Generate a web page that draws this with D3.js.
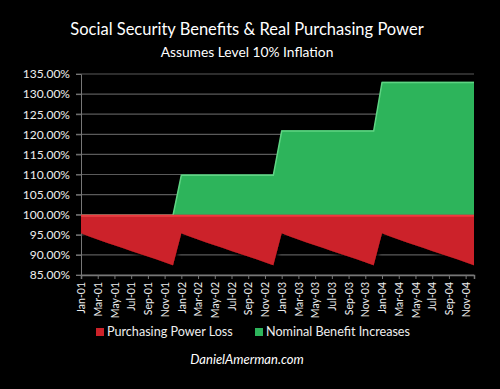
<!DOCTYPE html>
<html><head><meta charset="utf-8">
<script src="https://cdn.jsdelivr.net/npm/d3@7/dist/d3.min.js"></script>
<style>
html,body{margin:0;padding:0;background:#000;}
svg{display:block;font-family:Lato,"Open Sans",sans-serif;}
</style></head>
<body>
<svg id="c" width="500" height="389"></svg>
<script>
// ---- data ----
const months = [];
const monthNames = ["Jan","Feb","Mar","Apr","May","Jun","Jul","Aug","Sep","Oct","Nov","Dec"];
const years = ["01","02","03","04"];
years.forEach(y => monthNames.forEach(m => months.push(m + "-" + y)));

// real purchasing power (%)
const realValue = [
  95.4,94.6,93.8,93.1,92.4,91.7,91.0,90.3,89.6,88.9,88.2,87.4,
  95.4,94.6,93.8,93.1,92.4,91.7,91.0,90.3,89.6,88.9,88.2,87.4,
  95.4,94.6,93.8,93.1,92.4,91.7,91.0,90.3,89.6,88.9,88.2,87.4,
  95.4,94.6,93.8,93.1,92.4,91.7,91.0,90.3,89.6,88.9,88.2,87.4
];
// nominal benefit level (%)
const nominalValue = [
  100,100,100,100,100,100,100,100,100,100,100,100,
  110,110,110,110,110,110,110,110,110,110,110,110,
  121,121,121,121,121,121,121,121,121,121,121,121,
  133.1,133.1,133.1,133.1,133.1,133.1,133.1,133.1,133.1,133.1,133.1,133.1
];
const baseLevel = 100;
const yTicks = [85,90,95,100,105,110,115,120,125,130,135];
const title = "Social Security Benefits & Real Purchasing Power";
const subtitle = "Assumes Level 10% Inflation";
const legendLabels = ["Purchasing Power Loss","Nominal Benefit Increases"];
const credit = "DanielAmerman.com";

// ---- layout ----
const svg = d3.select("#c");
const pL = 81, pR = 474, pT = 74, pB = 275;
const x = d3.scalePoint().domain(months).range([pL, pR]);
const y = d3.scaleLinear().domain([85,135]).range([pB, pT]);

const defs = svg.append("defs");
const sh = defs.append("filter").attr("id","shadow").attr("x","-10%").attr("y","-10%").attr("width","130%").attr("height","140%");
sh.append("feGaussianBlur").attr("in","SourceAlpha").attr("stdDeviation",1.5).attr("result","b");
sh.append("feOffset").attr("in","b").attr("dx",1.5).attr("dy",2.5).attr("result","o");
sh.append("feComponentTransfer").attr("in","o").attr("result","o2")
  .append("feFuncA").attr("type","linear").attr("slope",0.9);
const mg = sh.append("feMerge");
mg.append("feMergeNode").attr("in","o2");
mg.append("feMergeNode").attr("in","SourceGraphic");

// titles
svg.append("text").attr("x",247).attr("y",35).attr("text-anchor","middle")
  .attr("fill","#fff").attr("font-size",16.5).text(title);
svg.append("text").attr("x",247).attr("y",57).attr("text-anchor","middle")
  .attr("fill","#fff").attr("font-size",13.8).text(subtitle);

// gridlines
svg.append("g").selectAll("line").data(yTicks).join("line")
  .attr("x1",pL-5).attr("x2",pR).attr("y1",d=>y(d)).attr("y2",d=>y(d))
  .attr("stroke","#5a5a5a").attr("stroke-width",1.2);

// y axis
const yAxis = d3.axisLeft(y).tickValues(yTicks).tickSize(5).tickFormat(d=>d3.format(".2f")(d)+"%");
const gy = svg.append("g").attr("transform",`translate(${pL},0)`).call(yAxis);
gy.select(".domain").attr("stroke","#777");
gy.selectAll(".tick line").attr("stroke","#777");
gy.selectAll(".tick text").attr("fill","#eee").attr("font-size",12).attr("font-family","Lato,sans-serif").attr("x",-11);

const data = months.map((mo,i)=>({mo, real: realValue[i], nom: nominalValue[i]}));

// red area
const redArea = d3.area().x(d=>x(d.mo)).y0(d=>y(d.real)).y1(()=>y(baseLevel));
svg.append("path").datum(data).attr("d",redArea).attr("fill","#cc2229").attr("filter","url(#shadow)");
// green area
const greenArea = d3.area().x(d=>x(d.mo)).y0(()=>y(baseLevel)).y1(d=>y(d.nom));
svg.append("path").datum(data).attr("d",greenArea).attr("fill","#2db45b");
// bevel highlights
svg.append("path").datum(data).attr("d",d3.line().x(d=>x(d.mo)).y(d=>y(d.nom)+0.8))
  .attr("fill","none").attr("stroke","#5fd483").attr("stroke-width",1.5);
svg.append("line").attr("x1",pL).attr("x2",pR).attr("y1",y(baseLevel)+1).attr("y2",y(baseLevel)+1)
  .attr("stroke","#f0383e").attr("stroke-width",2);

// x axis
const xTicks = months.filter((d,i)=>i%2===0);
const xAxis = d3.axisBottom(x).tickValues(xTicks).tickSize(4);
const gx = svg.append("g").attr("transform",`translate(0,${pB})`).call(xAxis);
gx.select(".domain").attr("stroke","#777").attr("stroke-width",1.5);
gx.selectAll(".tick line").attr("stroke","#777");
gx.selectAll(".tick text").attr("fill","#eee").attr("font-size",10.5).attr("font-family","Lato,sans-serif")
  .attr("transform","rotate(-90)").attr("text-anchor","end").attr("dy","0.35em").attr("x",-7).attr("y",0);

// legend
const legCol = ["#cc2229","#2db45b"];
const legX = [96,255];
legendLabels.forEach((t,i)=>{
  svg.append("rect").attr("x",legX[i]).attr("y",328).attr("width",8).attr("height",8).attr("fill",legCol[i]);
  svg.append("text").attr("x",legX[i]+11).attr("y",336).attr("fill","#eee").attr("font-size",12.6).text(t);
});
svg.append("text").attr("x",247).attr("y",364).attr("text-anchor","middle").attr("fill","#fff")
  .attr("font-size",13).attr("font-style","italic").text(credit);
</script>
</body></html>
